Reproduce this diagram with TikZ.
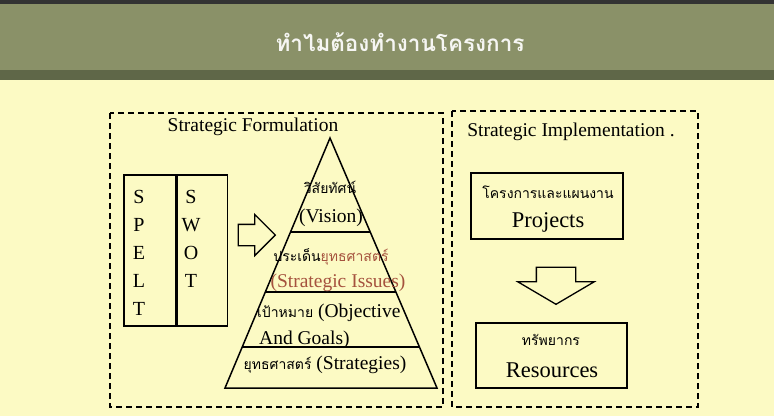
\documentclass[tikz,border=0pt]{standalone}
\usepackage{fontspec}
\setmainfont{Liberation Serif}
\newfontfamily\thaifont[Script=Thai]{Loma}
\usetikzlibrary{calc,positioning,shapes.arrows}
\definecolor{band}{RGB}{138,145,104}
\definecolor{bandshadow}{RGB}{95,103,72}
\definecolor{paper}{RGB}{252,250,196}
\definecolor{brick}{RGB}{165,82,62}
\newcommand{\bk}[1]{\textcolor{brick}{#1}}
\newcommand{\thsmall}{\thaifont\fontsize{14}{18}\selectfont}

\begin{document}
\begin{tikzpicture}[x=1pt,y=-1pt,
  dashbox/.style={draw,line width=1.2pt,dash pattern=on 6pt off 4pt},
  box/.style={draw,line width=1.3pt,inner sep=0pt},
  pyr/.style={draw,line width=1.5pt,line join=miter},
  letter/.style={anchor=base,font=\fontsize{20}{24}\selectfont,inner sep=0pt},
  txt/.style={font=\fontsize{19.5}{24}\selectfont,inner sep=0pt},
  thaitxt/.style={font=\thsmall,inner sep=0pt},
  big/.style={font=\fontsize{22.5}{26}\selectfont,inner sep=0pt},
  hollow/.style={draw,single arrow,line width=1.3pt}]

  \useasboundingbox (0,0) rectangle (774,416);
  % background and header
  \fill[paper] (0,0) rectangle (774,416);
  \fill[black!80] (0,0) rectangle (774,4);
  \fill[band] (0,4) rectangle (774,70);
  \fill[bandshadow] (0,70) rectangle (774,80);
  \node[font=\thaifont\bfseries\fontsize{22.5}{26}\selectfont,text=white!92!band] (title) at (400,42) {ทำไมต้องทำงานโครงการ};

  % the two dashed frames
  \draw[dashbox] (110,113) rectangle (443,407);
  \draw[dashbox] (452,111) rectangle (698,407);
  \node[txt] (formulation) at (253,127) {Strategic Formulation};
  \node[txt] (implementation) at (571,132) {Strategic Implementation .};

  % SPELT / SWOT columns
  \node[box, minimum width=52, minimum height=151] (spelt) at (150,250.5) {};
  \node[box, minimum width=50, minimum height=151, right=0pt of spelt] (swot) {};
  \foreach \l [count=\i from 0] in {S,P,E,L,T}
    \node[letter] (p\i) at (139,203+28*\i) {\l};
  \foreach \l [count=\i from 0] in {S,W,O,T}
    \node[letter] (w\i) at (191,203+28*\i) {\l};
  \node[hollow, inner xsep=0pt, inner ysep=10pt, minimum height=37, single arrow head extend=10] (toright) at (251.5,235) {};

  % pyramid
  \coordinate (apex) at (330,138);
  \coordinate (bl) at (225,388);
  \coordinate (br) at (437,388);
  \draw[pyr] (apex) -- (bl) -- (br) -- cycle;
  \foreach \t in {0.376,0.616,0.836}
    \draw[pyr] ($(apex)!\t!(bl)$) -- ($(apex)!\t!(br)$);
  \node[thaitxt] (vision th) at (330,187) {วิสัยทัศน์};
  \node[txt] (vision) at (331,218) {(Vision)};
  \node[thaitxt] (issues th) at (331,257) {ประเด็น\bk{ยุทธศาสตร์}};
  \node[txt,text=brick] (issues) at (338,283) {(Strategic Issues)};
  \node[txt,anchor=west] (goals) at (257,313) {{\thsmall เป้าหมาย} (Objective};
  \node[txt,anchor=west] (goals2) at (259,340) {And Goals)};
  \node[txt] (strategies) at (325,365) {{\thsmall ยุทธศาสตร์} (Strategies)};

  % implementation side
  \node[box, minimum width=152, minimum height=66] (projects) at (547,206) {};
  \node[thaitxt] (projects th) at (548,192) {โครงการและแผนงาน};
  \node[big] (projects en) at (548,222) {Projects};
  \node[hollow, shape border rotate=270, single arrow tip angle=119, inner xsep=19pt, inner ysep=0pt, minimum height=37, single arrow head extend=18.5] (todown) at (556,280) {};
  \node[box, minimum width=151, minimum height=65] (resources) at (551.5,355.5) {};
  \node[thaitxt] (resources th) at (551,340) {ทรัพยากร};
  \node[big] (resources en) at (552,370) {Resources};
\end{tikzpicture}
\end{document}
